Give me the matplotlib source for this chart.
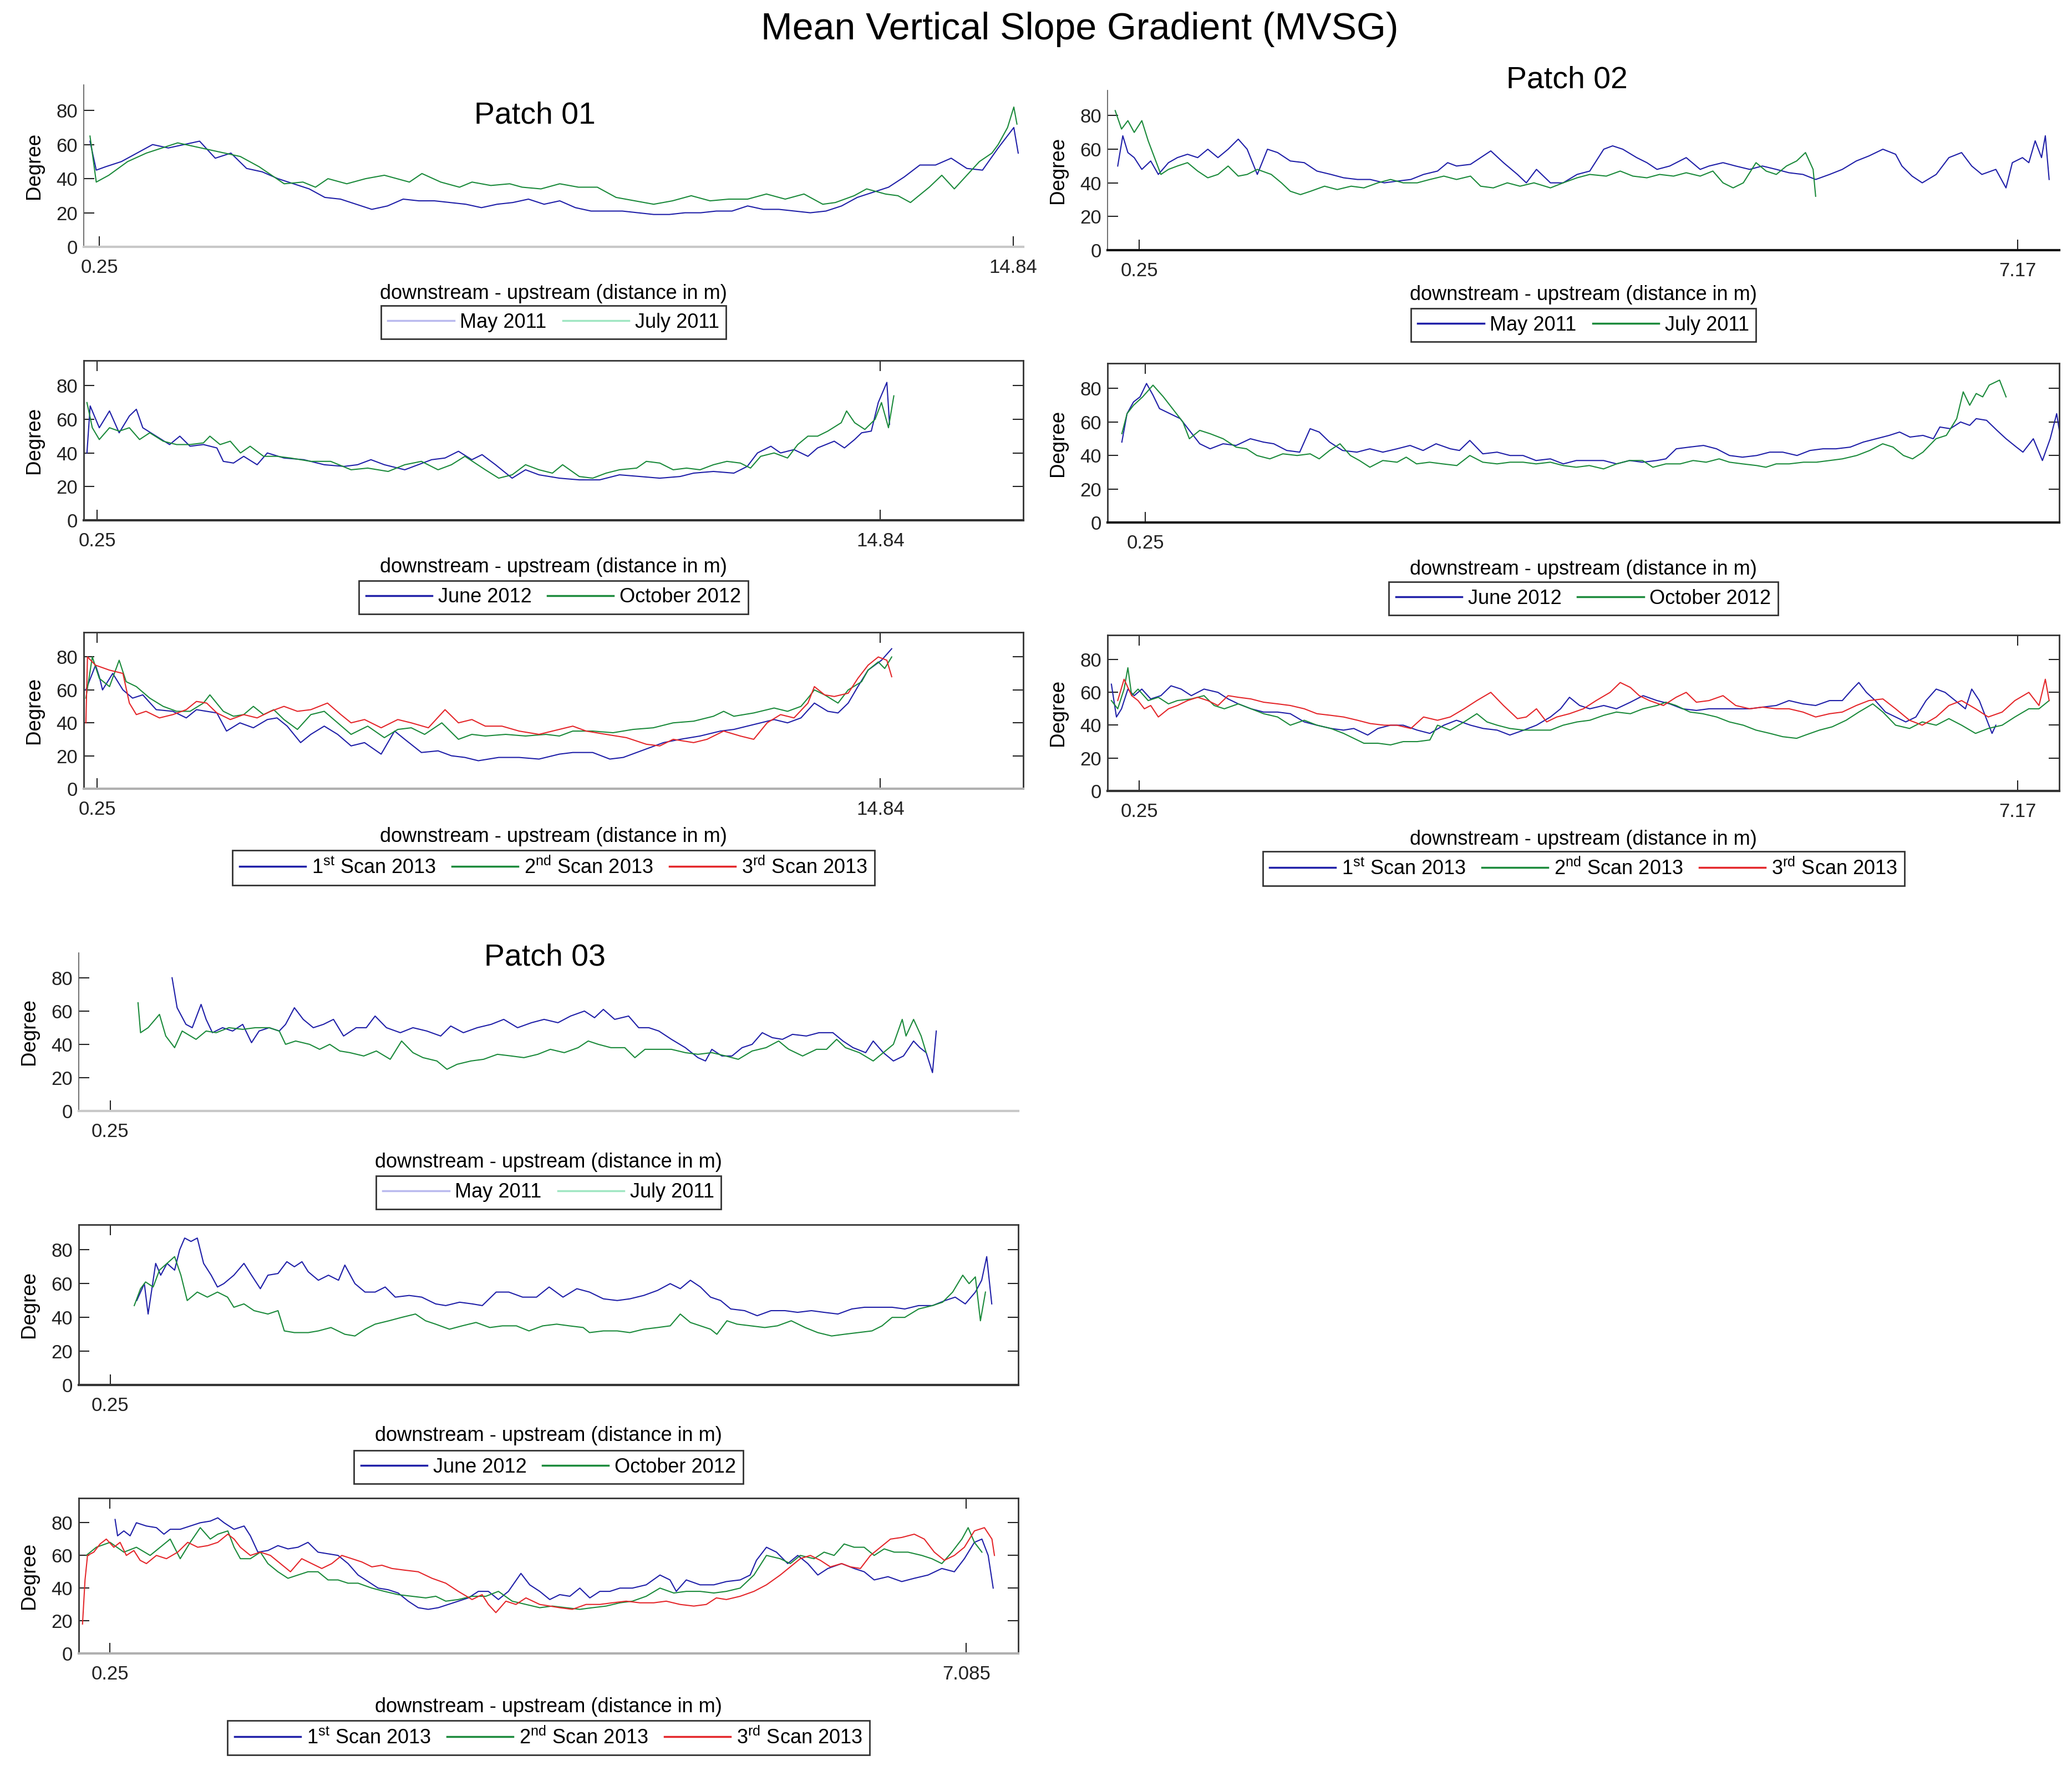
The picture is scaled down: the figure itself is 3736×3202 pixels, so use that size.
import numpy as np
import matplotlib
matplotlib.use('Agg')
import matplotlib.pyplot as plt

plt.rcParams['font.family'] = ['Liberation Sans', 'DejaVu Sans']
plt.rcParams['mathtext.fontset'] = 'custom'
plt.rcParams['mathtext.rm'] = 'Liberation Sans'
plt.rcParams['mathtext.it'] = 'Liberation Sans:italic'

# (distance in m, degree) pairs
# ---- Patch 01 ----
p1_may2011 = [(0.10, 62), (0.20, 45), (0.35, 47), (0.60, 50), (0.85, 55), (1.10, 60), (1.35, 58), (1.60, 60),
              (1.85, 62), (2.10, 52), (2.35, 55), (2.60, 46), (2.85, 44), (3.10, 40), (3.35, 37), (3.60, 34),
              (3.85, 29), (4.10, 28), (4.35, 25), (4.60, 22), (4.85, 24), (5.10, 28), (5.35, 27), (5.60, 27),
              (5.85, 26), (6.10, 25), (6.35, 23), (6.60, 25), (6.85, 26), (7.10, 28), (7.35, 25), (7.60, 27),
              (7.85, 23), (8.10, 21), (8.35, 21), (8.60, 21), (8.85, 20), (9.10, 19), (9.35, 19), (9.60, 20),
              (9.85, 20), (10.10, 21), (10.35, 21), (10.60, 24), (10.85, 22), (11.10, 22), (11.35, 21),
              (11.60, 20), (11.85, 21), (12.10, 24), (12.35, 29), (12.60, 32), (12.85, 35), (13.10, 41),
              (13.35, 48), (13.60, 48), (13.85, 52), (14.10, 46), (14.35, 45), (14.60, 58), (14.85, 70), (14.92, 55)]
p1_jul2011 = [(0.10, 65), (0.20, 38), (0.40, 42), (0.70, 50), (1.00, 55), (1.50, 61), (2.00, 57), (2.50, 53),
              (2.80, 47), (3.00, 42), (3.20, 37), (3.50, 38), (3.70, 35), (3.90, 40), (4.20, 37), (4.50, 40),
              (4.80, 42), (5.00, 40), (5.20, 38), (5.40, 43), (5.70, 38), (6.00, 35), (6.20, 38), (6.50, 36),
              (6.80, 37), (7.00, 35), (7.30, 34), (7.60, 37), (7.90, 35), (8.20, 35), (8.50, 29), (8.80, 27),
              (9.10, 25), (9.40, 27), (9.70, 30), (10.00, 27), (10.30, 28), (10.60, 28), (10.90, 31),
              (11.20, 28), (11.50, 31), (11.80, 25), (12.00, 26), (12.30, 30), (12.50, 34), (12.80, 31),
              (13.00, 30), (13.20, 26), (13.50, 35), (13.70, 42), (13.90, 34), (14.10, 42), (14.30, 50),
              (14.50, 55), (14.60, 60), (14.75, 70), (14.85, 82), (14.90, 72)]
p1_jun2012 = [(0.06, 40), (0.12, 68), (0.29, 55), (0.48, 65), (0.66, 52), (0.85, 62), (0.98, 66), (1.10, 55),
              (1.35, 50), (1.60, 45), (1.79, 50), (1.98, 44), (2.23, 45), (2.48, 43), (2.60, 35), (2.79, 34),
              (2.98, 38), (3.23, 33), (3.42, 40), (3.73, 37), (4.10, 36), (4.48, 33), (4.85, 32), (5.10, 33),
              (5.35, 36), (5.60, 33), (5.98, 30), (6.23, 33), (6.48, 36), (6.73, 37), (6.98, 41), (7.23, 36),
              (7.42, 39), (7.67, 33), (7.98, 25), (8.23, 30), (8.48, 27), (8.86, 25), (9.23, 24), (9.61, 24),
              (9.98, 27), (10.36, 26), (10.73, 25), (11.11, 26), (11.36, 28), (11.73, 29), (12.11, 28),
              (12.36, 32), (12.55, 40), (12.80, 44), (12.98, 40), (13.23, 42), (13.49, 38), (13.67, 43),
              (13.98, 47), (14.17, 43), (14.36, 48), (14.49, 52), (14.67, 53), (14.80, 70), (14.96, 82), (15.01, 57)]
p1_oct2012 = [(0.06, 70), (0.16, 55), (0.29, 48), (0.48, 55), (0.66, 53), (0.85, 55), (1.04, 48), (1.23, 52),
              (1.48, 47), (1.73, 45), (1.98, 45), (2.23, 46), (2.35, 50), (2.54, 45), (2.73, 47), (2.92, 40),
              (3.10, 44), (3.35, 38), (3.60, 38), (3.85, 37), (4.23, 35), (4.60, 35), (4.98, 30), (5.29, 31),
              (5.67, 29), (5.98, 33), (6.29, 35), (6.60, 30), (6.85, 33), (7.10, 38), (7.48, 30), (7.73, 25),
              (7.98, 27), (8.23, 33), (8.48, 30), (8.73, 28), (8.92, 33), (9.23, 26), (9.48, 25), (9.73, 28),
              (9.98, 30), (10.30, 31), (10.48, 35), (10.73, 34), (10.98, 30), (11.23, 31), (11.48, 30),
              (11.73, 33), (11.98, 35), (12.23, 34), (12.42, 31), (12.61, 38), (12.86, 40), (13.11, 37),
              (13.30, 45), (13.49, 50), (13.67, 50), (13.86, 53), (14.11, 58), (14.21, 65), (14.36, 58),
              (14.55, 54), (14.74, 60), (14.86, 70), (14.99, 55), (15.09, 74)]
p1_scan1 = [(0.04, 60), (0.10, 65), (0.22, 75), (0.29, 68), (0.35, 60), (0.54, 70), (0.73, 60), (0.91, 55),
            (1.10, 57), (1.35, 48), (1.66, 47), (1.91, 43), (2.10, 48), (2.29, 47), (2.48, 46), (2.66, 35),
            (2.91, 40), (3.16, 37), (3.42, 42), (3.60, 43), (3.79, 38), (4.04, 28), (4.23, 33), (4.48, 38),
            (4.73, 33), (4.98, 26), (5.23, 28), (5.54, 21), (5.79, 35), (5.98, 30), (6.29, 22), (6.60, 23),
            (6.85, 20), (7.10, 19), (7.35, 17), (7.73, 19), (8.11, 19), (8.48, 18), (8.86, 21), (9.11, 22),
            (9.48, 22), (9.80, 18), (10.05, 19), (10.30, 22), (10.55, 25), (10.80, 28), (11.11, 30),
            (11.48, 32), (11.86, 35), (12.11, 36), (12.36, 38), (12.61, 40), (12.86, 42), (13.11, 40),
            (13.36, 43), (13.61, 52), (13.86, 47), (14.05, 46), (14.24, 52), (14.42, 62), (14.61, 72),
            (14.86, 78), (15.05, 85)]
p1_scan2 = [(0.04, 55), (0.16, 80), (0.29, 67), (0.48, 62), (0.66, 78), (0.79, 65), (0.98, 62), (1.23, 55),
            (1.48, 50), (1.73, 47), (1.98, 47), (2.23, 52), (2.35, 57), (2.60, 47), (2.79, 44), (2.98, 45),
            (3.16, 50), (3.35, 45), (3.54, 48), (3.73, 42), (3.98, 36), (4.23, 45), (4.48, 47), (4.73, 40),
            (4.98, 33), (5.29, 38), (5.60, 31), (5.85, 36), (6.10, 37), (6.35, 33), (6.67, 40), (6.98, 30),
            (7.23, 33), (7.48, 32), (7.86, 33), (8.23, 32), (8.61, 33), (8.86, 32), (9.11, 35), (9.48, 35),
            (9.86, 34), (10.23, 36), (10.61, 37), (10.98, 40), (11.36, 41), (11.73, 44), (11.92, 47),
            (12.11, 44), (12.48, 46), (12.86, 49), (13.11, 47), (13.36, 50), (13.49, 55), (13.61, 60),
            (13.80, 57), (14.05, 52), (14.24, 60), (14.49, 65), (14.61, 72), (14.80, 77), (14.92, 73), (15.05, 80)]
p1_scan3 = [(0.04, 40), (0.07, 80), (0.22, 75), (0.48, 72), (0.73, 70), (0.85, 52), (0.98, 45), (1.16, 47),
            (1.41, 43), (1.66, 45), (1.91, 48), (2.10, 53), (2.29, 52), (2.48, 46), (2.73, 42), (2.98, 45),
            (3.23, 43), (3.48, 47), (3.73, 50), (3.98, 47), (4.23, 48), (4.54, 52), (4.79, 45), (4.98, 40),
            (5.23, 42), (5.54, 37), (5.85, 42), (6.10, 40), (6.42, 37), (6.73, 48), (6.98, 40), (7.23, 42),
            (7.48, 38), (7.79, 38), (8.11, 35), (8.48, 33), (8.73, 35), (9.11, 38), (9.36, 35), (9.73, 33),
            (10.11, 31), (10.48, 27), (10.73, 26), (10.98, 30), (11.36, 28), (11.61, 30), (11.92, 35),
            (12.23, 32), (12.48, 30), (12.73, 40), (12.98, 45), (13.23, 43), (13.49, 52), (13.61, 62),
            (13.80, 57), (13.98, 56), (14.24, 58), (14.42, 67), (14.61, 75), (14.80, 80), (14.96, 78), (15.05, 68)]

# ---- Patch 02 ----
p2_may2011 = [(0.08, 50), (0.12, 68), (0.16, 58), (0.21, 55), (0.27, 48), (0.34, 53), (0.40, 45), (0.48, 52),
              (0.55, 55), (0.63, 57), (0.71, 55), (0.79, 60), (0.87, 55), (0.95, 60), (1.03, 66), (1.10, 60),
              (1.18, 45), (1.26, 60), (1.34, 58), (1.44, 53), (1.55, 52), (1.65, 47), (1.76, 45), (1.86, 43),
              (1.97, 42), (2.07, 42), (2.18, 40), (2.28, 41), (2.39, 42), (2.49, 45), (2.60, 47), (2.68, 52),
              (2.75, 50), (2.86, 51), (2.94, 55), (3.02, 59), (3.12, 52), (3.23, 45), (3.30, 40), (3.38, 48),
              (3.49, 40), (3.59, 40), (3.70, 45), (3.80, 47), (3.91, 60), (3.98, 62), (4.06, 60), (4.17, 55),
              (4.25, 52), (4.33, 48), (4.43, 50), (4.56, 55), (4.67, 48), (4.74, 50), (4.85, 52), (4.95, 50),
              (5.06, 48), (5.16, 50), (5.27, 48), (5.37, 46), (5.48, 45), (5.58, 42), (5.69, 45), (5.79, 48),
              (5.90, 53), (6.00, 56), (6.11, 60), (6.21, 57), (6.26, 50), (6.34, 44), (6.42, 40), (6.53, 45),
              (6.63, 55), (6.73, 58), (6.81, 50), (6.89, 45), (7.00, 48), (7.08, 37), (7.13, 52), (7.21, 55),
              (7.26, 52), (7.31, 65), (7.36, 55), (7.39, 68), (7.42, 42)]
p2_jul2011 = [(0.06, 83), (0.11, 72), (0.16, 77), (0.21, 70), (0.27, 77), (0.32, 65), (0.37, 55), (0.42, 45),
              (0.48, 48), (0.55, 50), (0.63, 52), (0.71, 47), (0.79, 43), (0.87, 45), (0.95, 50), (1.03, 44),
              (1.10, 45), (1.18, 48), (1.29, 45), (1.37, 40), (1.44, 35), (1.52, 33), (1.60, 35), (1.71, 38),
              (1.81, 36), (1.92, 38), (2.02, 37), (2.13, 40), (2.23, 42), (2.33, 40), (2.44, 40), (2.54, 42),
              (2.65, 44), (2.75, 42), (2.86, 44), (2.94, 38), (3.04, 37), (3.15, 40), (3.25, 38), (3.36, 40),
              (3.49, 37), (3.59, 40), (3.70, 43), (3.80, 45), (3.93, 44), (4.04, 47), (4.14, 44), (4.25, 43),
              (4.35, 45), (4.46, 44), (4.56, 46), (4.67, 44), (4.77, 47), (4.85, 40), (4.93, 37), (5.01, 40),
              (5.11, 52), (5.19, 47), (5.27, 45), (5.35, 50), (5.43, 53), (5.50, 58), (5.56, 48), (5.58, 32)]
p2_jun2012 = [(0.07, 48), (0.11, 65), (0.16, 72), (0.21, 75), (0.26, 83), (0.31, 76), (0.36, 68), (0.44, 65),
              (0.52, 62), (0.59, 55), (0.67, 47), (0.75, 44), (0.85, 47), (0.95, 46), (1.06, 50), (1.16, 48),
              (1.24, 47), (1.34, 43), (1.44, 42), (1.52, 56), (1.59, 54), (1.67, 48), (1.77, 43), (1.88, 42),
              (1.98, 44), (2.08, 42), (2.19, 44), (2.29, 46), (2.39, 43), (2.49, 47), (2.60, 44), (2.67, 43),
              (2.75, 49), (2.85, 41), (2.96, 42), (3.06, 40), (3.16, 40), (3.26, 37), (3.37, 38), (3.47, 35),
              (3.57, 37), (3.67, 37), (3.78, 37), (3.88, 35), (3.98, 37), (4.08, 36), (4.19, 37), (4.26, 38),
              (4.34, 44), (4.44, 45), (4.55, 46), (4.65, 44), (4.75, 40), (4.85, 39), (4.96, 40), (5.06, 42),
              (5.16, 42), (5.27, 40), (5.37, 43), (5.47, 44), (5.57, 44), (5.68, 45), (5.78, 48), (5.88, 50),
              (5.98, 52), (6.06, 54), (6.14, 51), (6.24, 52), (6.32, 50), (6.37, 57), (6.45, 56), (6.53, 60),
              (6.60, 58), (6.65, 62), (6.73, 61), (6.81, 55), (6.88, 50), (6.96, 45), (7.01, 42), (7.09, 50),
              (7.16, 37), (7.22, 50), (7.27, 65), (7.29, 55)]
p2_oct2012 = [(0.07, 53), (0.11, 65), (0.16, 70), (0.23, 75), (0.31, 82), (0.39, 75), (0.47, 67), (0.54, 60),
              (0.59, 50), (0.67, 55), (0.75, 53), (0.85, 50), (0.95, 45), (1.03, 44), (1.11, 40), (1.21, 38),
              (1.31, 41), (1.42, 40), (1.52, 41), (1.59, 38), (1.67, 43), (1.75, 47), (1.83, 40), (1.90, 37),
              (1.98, 33), (2.08, 37), (2.19, 36), (2.26, 39), (2.34, 35), (2.44, 36), (2.54, 35), (2.65, 34),
              (2.75, 40), (2.85, 36), (2.96, 35), (3.06, 36), (3.16, 36), (3.26, 35), (3.37, 36), (3.47, 34),
              (3.57, 33), (3.67, 34), (3.78, 32), (3.88, 35), (3.98, 37), (4.08, 37), (4.16, 33), (4.26, 35),
              (4.37, 35), (4.47, 37), (4.57, 36), (4.67, 38), (4.75, 36), (4.85, 35), (4.96, 34), (5.03, 33),
              (5.11, 35), (5.21, 35), (5.32, 36), (5.42, 36), (5.52, 37), (5.62, 38), (5.73, 40), (5.83, 43),
              (5.93, 47), (6.01, 45), (6.09, 40), (6.16, 38), (6.24, 42), (6.34, 50), (6.42, 52), (6.50, 62),
              (6.55, 78), (6.60, 70), (6.65, 77), (6.70, 75), (6.75, 82), (6.83, 85), (6.88, 75)]
p2_scan1 = [(0.03, 65), (0.07, 45), (0.11, 50), (0.16, 62), (0.21, 58), (0.27, 62), (0.34, 56), (0.42, 58),
            (0.50, 64), (0.58, 62), (0.66, 58), (0.76, 62), (0.87, 60), (0.95, 56), (1.03, 53), (1.13, 50),
            (1.23, 48), (1.34, 48), (1.44, 47), (1.55, 42), (1.65, 40), (1.76, 38), (1.86, 37), (1.94, 38),
            (2.05, 34), (2.13, 38), (2.23, 40), (2.33, 40), (2.44, 37), (2.54, 35), (2.65, 40), (2.75, 43),
            (2.86, 40), (2.96, 38), (3.07, 37), (3.17, 34), (3.28, 37), (3.38, 40), (3.49, 45), (3.57, 50),
            (3.64, 57), (3.72, 52), (3.80, 50), (3.91, 52), (4.01, 50), (4.12, 54), (4.22, 58), (4.33, 55),
            (4.43, 53), (4.53, 50), (4.64, 49), (4.74, 50), (4.85, 50), (4.95, 50), (5.06, 50), (5.16, 51),
            (5.27, 52), (5.37, 55), (5.48, 53), (5.58, 52), (5.69, 55), (5.79, 55), (5.87, 62), (5.92, 66),
            (5.98, 60), (6.05, 55), (6.13, 48), (6.21, 45), (6.29, 42), (6.37, 45), (6.45, 55), (6.53, 62),
            (6.60, 60), (6.68, 55), (6.76, 50), (6.81, 62), (6.87, 55), (6.92, 45), (6.97, 35), (7.00, 40)]
p2_scan2 = [(0.03, 55), (0.08, 50), (0.13, 62), (0.16, 75), (0.19, 58), (0.24, 62), (0.32, 55), (0.40, 57),
            (0.48, 53), (0.55, 55), (0.66, 56), (0.76, 58), (0.84, 52), (0.92, 50), (1.03, 53), (1.13, 50),
            (1.23, 47), (1.34, 45), (1.44, 40), (1.55, 43), (1.65, 40), (1.76, 38), (1.86, 35), (1.94, 32),
            (2.02, 29), (2.13, 29), (2.23, 28), (2.33, 30), (2.44, 30), (2.54, 31), (2.60, 40), (2.70, 37),
            (2.81, 42), (2.91, 47), (2.99, 42), (3.07, 40), (3.17, 38), (3.28, 37), (3.38, 37), (3.49, 37),
            (3.59, 40), (3.70, 42), (3.80, 43), (3.91, 46), (4.01, 48), (4.12, 47), (4.22, 50), (4.33, 52),
            (4.40, 54), (4.48, 52), (4.59, 48), (4.69, 47), (4.80, 45), (4.90, 42), (5.01, 40), (5.11, 37),
            (5.22, 35), (5.32, 33), (5.43, 32), (5.50, 34), (5.61, 37), (5.71, 39), (5.82, 43), (5.92, 48),
            (6.03, 53), (6.11, 48), (6.21, 40), (6.32, 38), (6.42, 42), (6.53, 40), (6.63, 44), (6.73, 40),
            (6.84, 35), (6.94, 38), (7.05, 40), (7.15, 45), (7.26, 50), (7.34, 50), (7.42, 55)]
p2_scan3 = [(0.08, 55), (0.13, 68), (0.19, 58), (0.24, 55), (0.29, 50), (0.34, 52), (0.40, 45), (0.48, 50),
            (0.55, 52), (0.63, 55), (0.71, 57), (0.79, 55), (0.87, 52), (0.95, 58), (1.03, 57), (1.13, 56),
            (1.23, 54), (1.34, 53), (1.44, 52), (1.55, 50), (1.65, 47), (1.76, 46), (1.86, 45), (1.97, 43),
            (2.07, 41), (2.18, 40), (2.28, 40), (2.39, 38), (2.49, 45), (2.60, 43), (2.70, 45), (2.81, 50),
            (2.91, 55), (3.02, 60), (3.12, 52), (3.23, 44), (3.30, 45), (3.38, 50), (3.46, 42), (3.54, 45),
            (3.64, 47), (3.75, 50), (3.85, 55), (3.96, 60), (4.04, 66), (4.12, 63), (4.19, 58), (4.27, 55),
            (4.38, 52), (4.48, 57), (4.56, 60), (4.64, 54), (4.74, 55), (4.85, 58), (4.95, 52), (5.06, 50),
            (5.16, 51), (5.27, 50), (5.37, 50), (5.48, 48), (5.58, 45), (5.69, 47), (5.79, 48), (5.90, 52),
            (6.00, 55), (6.11, 56), (6.21, 50), (6.32, 43), (6.42, 40), (6.53, 45), (6.63, 52), (6.73, 55),
            (6.84, 50), (6.94, 45), (7.05, 48), (7.15, 55), (7.26, 60), (7.34, 52), (7.39, 68), (7.42, 55)]

# ---- Patch 03 ----
p3_may2011 = [(0.74, 80), (0.78, 62), (0.85, 52), (0.90, 50), (0.97, 64), (1.01, 55), (1.06, 47), (1.14, 50),
              (1.22, 48), (1.30, 52), (1.37, 41), (1.43, 48), (1.51, 50), (1.59, 48), (1.64, 52), (1.71, 62),
              (1.78, 55), (1.86, 50), (1.94, 52), (2.02, 55), (2.10, 45), (2.20, 50), (2.28, 50), (2.35, 57),
              (2.44, 50), (2.55, 47), (2.65, 50), (2.76, 48), (2.87, 45), (2.95, 51), (3.05, 47), (3.16, 50),
              (3.27, 52), (3.37, 55), (3.48, 50), (3.59, 53), (3.69, 55), (3.80, 53), (3.90, 57), (4.01, 60),
              (4.09, 56), (4.16, 61), (4.25, 55), (4.36, 57), (4.44, 50), (4.52, 50), (4.60, 48), (4.70, 43),
              (4.81, 38), (4.91, 32), (4.97, 30), (5.02, 37), (5.10, 33), (5.18, 33), (5.26, 38), (5.34, 40),
              (5.42, 47), (5.50, 44), (5.58, 43), (5.66, 46), (5.77, 45), (5.87, 47), (5.98, 47), (6.06, 42),
              (6.14, 38), (6.24, 35), (6.30, 42), (6.38, 35), (6.46, 30), (6.54, 33), (6.62, 42), (6.67, 38),
              (6.72, 35), (6.77, 23), (6.80, 48)]
p3_jul2011 = [(0.47, 65), (0.49, 47), (0.55, 50), (0.64, 58), (0.69, 45), (0.76, 38), (0.82, 48), (0.93, 43),
              (1.01, 48), (1.09, 47), (1.19, 50), (1.30, 49), (1.40, 50), (1.51, 50), (1.59, 48), (1.64, 40),
              (1.72, 42), (1.83, 40), (1.91, 37), (1.99, 40), (2.07, 36), (2.15, 35), (2.26, 33), (2.36, 36),
              (2.47, 31), (2.56, 42), (2.65, 35), (2.73, 32), (2.84, 30), (2.92, 25), (3.00, 28), (3.11, 30),
              (3.21, 31), (3.32, 34), (3.43, 33), (3.53, 32), (3.64, 34), (3.74, 37), (3.85, 35), (3.96, 38),
              (4.04, 42), (4.12, 40), (4.22, 38), (4.33, 38), (4.41, 32), (4.49, 37), (4.60, 37), (4.70, 37),
              (4.81, 35), (4.91, 34), (5.02, 35), (5.13, 33), (5.23, 31), (5.34, 36), (5.45, 38), (5.55, 42),
              (5.63, 37), (5.74, 33), (5.85, 37), (5.93, 37), (6.01, 43), (6.08, 38), (6.19, 35), (6.30, 30),
              (6.38, 35), (6.46, 40), (6.53, 55), (6.56, 45), (6.62, 55), (6.68, 45), (6.72, 35)]
p3_jun2012 = [(0.46, 50), (0.52, 60), (0.55, 42), (0.61, 72), (0.65, 65), (0.70, 72), (0.76, 68), (0.80, 80),
              (0.84, 87), (0.89, 85), (0.94, 87), (0.99, 72), (1.05, 65), (1.10, 58), (1.15, 60), (1.23, 65),
              (1.31, 72), (1.37, 65), (1.44, 57), (1.50, 65), (1.58, 66), (1.65, 73), (1.71, 70), (1.77, 73),
              (1.82, 67), (1.90, 62), (1.98, 65), (2.06, 62), (2.11, 71), (2.19, 60), (2.27, 55), (2.35, 55),
              (2.43, 58), (2.51, 52), (2.62, 53), (2.72, 52), (2.83, 48), (2.91, 47), (3.02, 49), (3.12, 48),
              (3.20, 47), (3.31, 55), (3.41, 55), (3.52, 52), (3.63, 52), (3.73, 58), (3.84, 52), (3.95, 57),
              (4.05, 55), (4.16, 51), (4.27, 50), (4.37, 51), (4.48, 53), (4.59, 56), (4.69, 60), (4.77, 57),
              (4.85, 62), (4.93, 58), (5.01, 52), (5.09, 50), (5.17, 45), (5.28, 44), (5.38, 41), (5.49, 44),
              (5.60, 44), (5.70, 43), (5.81, 44), (5.91, 43), (6.02, 42), (6.13, 45), (6.23, 46), (6.34, 46),
              (6.45, 46), (6.55, 45), (6.66, 47), (6.77, 47), (6.87, 50), (6.95, 52), (7.03, 48), (7.11, 55),
              (7.16, 62), (7.20, 76), (7.24, 48)]
p3_oct2012 = [(0.44, 47), (0.49, 57), (0.53, 61), (0.59, 58), (0.64, 68), (0.70, 72), (0.76, 76), (0.81, 65),
              (0.86, 50), (0.94, 55), (1.02, 52), (1.10, 55), (1.18, 52), (1.23, 46), (1.31, 48), (1.39, 44),
              (1.50, 42), (1.58, 44), (1.63, 32), (1.71, 31), (1.82, 31), (1.90, 32), (2.00, 34), (2.11, 30),
              (2.19, 29), (2.27, 33), (2.35, 36), (2.46, 38), (2.56, 40), (2.67, 42), (2.75, 38), (2.83, 36),
              (2.94, 33), (3.04, 35), (3.15, 37), (3.26, 34), (3.36, 35), (3.47, 35), (3.57, 32), (3.68, 35),
              (3.79, 36), (3.89, 35), (4.00, 34), (4.05, 31), (4.16, 32), (4.27, 32), (4.37, 31), (4.48, 33),
              (4.59, 34), (4.69, 35), (4.77, 42), (4.85, 37), (4.93, 35), (5.01, 33), (5.06, 30), (5.14, 38),
              (5.22, 36), (5.33, 35), (5.44, 34), (5.54, 35), (5.65, 38), (5.76, 34), (5.86, 31), (5.97, 29),
              (6.07, 30), (6.18, 31), (6.29, 32), (6.37, 35), (6.45, 40), (6.55, 40), (6.66, 45), (6.77, 47),
              (6.85, 49), (6.93, 55), (7.01, 65), (7.06, 60), (7.11, 64), (7.15, 38), (7.19, 55)]
p3_scan1 = [(0.29, 82), (0.31, 72), (0.36, 75), (0.41, 72), (0.46, 80), (0.54, 78), (0.62, 77), (0.68, 73),
            (0.73, 76), (0.81, 76), (0.89, 78), (0.97, 80), (1.05, 81), (1.11, 83), (1.16, 80), (1.24, 76),
            (1.32, 78), (1.37, 72), (1.43, 62), (1.51, 63), (1.59, 66), (1.67, 64), (1.75, 65), (1.83, 68),
            (1.91, 62), (1.99, 61), (2.07, 60), (2.15, 55), (2.23, 48), (2.31, 44), (2.39, 40), (2.47, 39),
            (2.55, 37), (2.63, 32), (2.71, 28), (2.79, 27), (2.87, 28), (2.95, 30), (3.03, 32), (3.11, 34),
            (3.19, 38), (3.27, 38), (3.35, 33), (3.43, 38), (3.53, 49), (3.60, 42), (3.68, 38), (3.76, 33),
            (3.84, 36), (3.92, 35), (4.00, 40), (4.08, 34), (4.16, 38), (4.24, 38), (4.32, 40), (4.42, 40),
            (4.53, 42), (4.64, 48), (4.72, 45), (4.77, 38), (4.85, 45), (4.96, 42), (5.07, 42), (5.17, 44),
            (5.28, 45), (5.36, 48), (5.41, 57), (5.49, 65), (5.57, 62), (5.66, 55), (5.74, 60), (5.82, 55),
            (5.90, 48), (5.98, 52), (6.09, 55), (6.19, 52), (6.27, 50), (6.35, 45), (6.46, 47), (6.57, 44),
            (6.67, 46), (6.78, 48), (6.89, 52), (6.99, 50), (7.07, 58), (7.15, 68), (7.21, 70), (7.26, 60),
            (7.30, 40)]
p3_scan2 = [(0.06, 60), (0.14, 65), (0.25, 68), (0.36, 62), (0.46, 65), (0.57, 60), (0.65, 65), (0.73, 70),
            (0.81, 58), (0.89, 68), (0.97, 77), (1.05, 70), (1.11, 73), (1.19, 75), (1.24, 65), (1.29, 58),
            (1.37, 58), (1.45, 62), (1.51, 55), (1.59, 50), (1.67, 46), (1.75, 48), (1.83, 50), (1.91, 50),
            (1.99, 45), (2.07, 45), (2.15, 43), (2.23, 43), (2.34, 40), (2.44, 38), (2.55, 36), (2.66, 35),
            (2.77, 34), (2.85, 35), (2.93, 32), (3.03, 33), (3.14, 35), (3.25, 35), (3.35, 38), (3.46, 32),
            (3.57, 30), (3.68, 28), (3.78, 29), (3.89, 28), (4.00, 27), (4.10, 28), (4.21, 29), (4.32, 31),
            (4.42, 32), (4.53, 35), (4.64, 40), (4.75, 37), (4.85, 38), (4.96, 38), (5.07, 37), (5.17, 38),
            (5.28, 40), (5.39, 48), (5.49, 60), (5.60, 58), (5.68, 55), (5.76, 60), (5.87, 58), (5.95, 62),
            (6.03, 60), (6.11, 67), (6.19, 65), (6.27, 65), (6.35, 60), (6.43, 64), (6.51, 62), (6.62, 62),
            (6.73, 60), (6.81, 58), (6.89, 55), (6.97, 62), (7.05, 70), (7.10, 77), (7.15, 68), (7.21, 62)]
p3_scan3 = [(0.03, 18), (0.05, 45), (0.07, 60), (0.12, 62), (0.17, 67), (0.22, 70), (0.28, 65), (0.33, 68),
            (0.38, 60), (0.44, 63), (0.49, 57), (0.54, 55), (0.62, 60), (0.70, 58), (0.79, 62), (0.87, 68),
            (0.95, 65), (1.03, 66), (1.11, 68), (1.19, 73), (1.24, 70), (1.29, 65), (1.37, 60), (1.45, 62),
            (1.53, 60), (1.61, 55), (1.69, 50), (1.78, 58), (1.86, 55), (1.94, 52), (2.02, 55), (2.10, 60),
            (2.18, 58), (2.26, 56), (2.34, 53), (2.42, 54), (2.50, 52), (2.60, 51), (2.71, 50), (2.82, 46),
            (2.93, 43), (3.03, 38), (3.14, 33), (3.22, 36), (3.27, 30), (3.33, 25), (3.41, 32), (3.49, 30),
            (3.57, 34), (3.68, 30), (3.76, 29), (3.84, 28), (3.94, 27), (4.05, 30), (4.16, 30), (4.26, 31),
            (4.37, 32), (4.48, 31), (4.59, 31), (4.69, 32), (4.80, 30), (4.91, 29), (5.01, 30), (5.09, 34),
            (5.17, 33), (5.28, 35), (5.39, 38), (5.49, 42), (5.60, 48), (5.68, 53), (5.76, 58), (5.84, 60),
            (5.92, 57), (6.00, 53), (6.09, 55), (6.16, 53), (6.24, 52), (6.32, 60), (6.40, 65), (6.48, 70),
            (6.57, 71), (6.67, 73), (6.75, 70), (6.83, 62), (6.91, 57), (6.99, 60), (7.07, 65), (7.15, 75),
            (7.23, 77), (7.29, 70), (7.31, 60)]

label_2011 = ['May 2011', 'July 2011']
label_2012 = ['June 2012', 'October 2012']
label_2013 = [r'1$^{\mathrm{st}}$ Scan 2013', r'2$^{\mathrm{nd}}$ Scan 2013', r'3$^{\mathrm{rd}}$ Scan 2013']

BLUE = '#1f1fa8'
GREEN = '#1b8a3b'
RED = '#e4262a'
FADED = ['#b9b9ee', '#9fe6c2']

fig = plt.figure(figsize=(37.37, 32.02), dpi=100)

# rect, xlim, xticks, series, labels, xlabel y, legend top y, boxed, faded legend, bottom spine colour
panels = [
    ([0.0404, 0.861, 0.4533, 0.0912], (0, 15), [0.25, 14.84], [p1_may2011, p1_jul2011], label_2011,
     -0.288, -0.363, False, True, '#c8c8c8'),
    ([0.0404, 0.7071, 0.4533, 0.0899], (0, 17.5), [0.25, 14.84], [p1_jun2012, p1_oct2012], label_2012,
     -0.295, -0.378, True, False, '#333333'),
    ([0.0404, 0.5559, 0.4533, 0.0881], (0, 17.5), [0.25, 14.84], [p1_scan1, p1_scan2, p1_scan3], label_2013,
     -0.308, -0.394, True, False, '#b0b0b0'),
    ([0.5344, 0.8592, 0.4592, 0.0899], (0, 7.5), [0.25, 7.17], [p2_may2011, p2_jul2011], label_2011,
     -0.281, -0.365, False, False, '#111111'),
    ([0.5344, 0.7058, 0.4592, 0.0896], (-0.04, 7.29), [0.25], [p2_jun2012, p2_oct2012], label_2012,
     -0.296, -0.373, True, False, '#111111'),
    ([0.5344, 0.5547, 0.4592, 0.0878], (0, 7.5), [0.25, 7.17], [p2_scan1, p2_scan2, p2_scan3], label_2013,
     -0.313, -0.388, True, False, '#333333'),
    ([0.038, 0.3745, 0.4533, 0.0890], (0, 7.45), [0.25], [p3_may2011, p3_jul2011], label_2011,
     -0.326, -0.410, False, True, '#c8c8c8'),
    ([0.038, 0.2202, 0.4533, 0.0903], (0, 7.45), [0.25], [p3_jun2012, p3_oct2012], label_2012,
     -0.318, -0.408, True, False, '#333333'),
    ([0.038, 0.0690, 0.4533, 0.0874], (0, 7.5), [0.25, 7.085], [p3_scan1, p3_scan2, p3_scan3], label_2013,
     -0.346, -0.432, True, False, '#b0b0b0'),
]
colors = [BLUE, GREEN, RED]

for rect, xlim, xticks, series, labels, xl_y, lg_y, boxed, faded, bcol in panels:
    ax = fig.add_axes(rect)
    for s, c, lab in zip(series, colors, labels):
        arr = np.array(s)
        ax.plot(arr[:, 0], arr[:, 1], color=c, lw=1.5, label=lab)
    ax.set_xlim(*xlim)
    ax.set_ylim(0, 95)
    ax.set_yticks([0, 20, 40, 60, 80])
    ax.set_xticks(xticks)
    ax.set_xticklabels([('%g' % t) for t in xticks])
    ax.tick_params(direction='in', length=14, width=1.5, labelsize=25, colors='#222222')
    ax.tick_params(axis='x', pad=15)
    ax.tick_params(axis='y', pad=8)
    if boxed:
        ax.tick_params(top=True, right=True)
        for sp in ['top', 'right', 'left']:
            ax.spines[sp].set_linewidth(2.0)
            ax.spines[sp].set_color('#333333')
    else:
        ax.spines['top'].set_visible(False)
        ax.spines['right'].set_visible(False)
        ax.spines['left'].set_color('#555555')
        ax.spines['left'].set_linewidth(1.2)
    ax.spines['bottom'].set_linewidth(3.0)
    ax.spines['bottom'].set_color(bcol)
    ax.set_ylabel('Degree', fontsize=26.5, labelpad=16)
    ax.text(0.5, xl_y, 'downstream - upstream (distance in m)', transform=ax.transAxes,
            ha='center', va='center', fontsize=26)
    leg = ax.legend(loc='upper center', bbox_to_anchor=(0.5, lg_y), ncol=len(series), fontsize=26,
                    frameon=True, fancybox=False, edgecolor='black', handlelength=3.3,
                    handletextpad=0.3, columnspacing=0.8, borderpad=0.35, borderaxespad=0)
    leg.get_frame().set_linewidth(2.0)
    if faded:
        for h, c in zip(leg.get_lines(), FADED):
            h.set_color(c)
    for h in leg.get_lines():
        h.set_linewidth(2.5)

fig.text(0.521, 0.9835, 'Mean Vertical Slope Gradient (MVSG)', ha='center', va='center', fontsize=49)
fig.text(0.258, 0.935, 'Patch 01', ha='center', va='center', fontsize=40)
fig.text(0.756, 0.955, 'Patch 02', ha='center', va='center', fontsize=40)
fig.text(0.263, 0.4607, 'Patch 03', ha='center', va='center', fontsize=40)

fig.savefig('out.png', dpi=100)
